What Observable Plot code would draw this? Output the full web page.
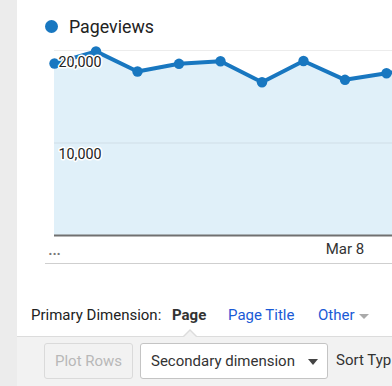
<!DOCTYPE html>
<html>
<head>
<meta charset="utf-8">
<script src="https://cdn.jsdelivr.net/npm/d3@7"></script>
<script src="https://cdn.jsdelivr.net/npm/@observablehq/plot@0.6"></script>
<style>
  html, body { margin: 0; padding: 0; width: 392px; height: 386px; overflow: hidden; background: #fff; font-family: Roboto, "Noto Sans", sans-serif; }
  #page { position: relative; width: 392px; height: 386px; overflow: hidden; }
  #strip { position: absolute; left: 0; top: 0; width: 17px; height: 386px; background: #ececec; }
  #chart { position: absolute; left: 0; top: 0; width: 440px; }
  #chart svg { max-width: none !important; width: 440px !important; height: 270px !important; display: block; }
  #legend { position: absolute; left: 45px; top: 14px; height: 24px; display: flex; align-items: center; }
  #legend .dot { width: 13px; height: 13px; border-radius: 50%; background: #1877c0; margin-right: 11px; }
  #legend span { font-size: 17.8px; color: #222; }
  #sep { position: absolute; left: 45px; top: 263px; width: 347px; height: 1px; background: #cfcfcf; }
  #dims { position: absolute; left: 31px; top: 306px; font-size: 15px; color: #222; white-space: nowrap; }
  #dims b { position: absolute; left: 141px; top: 0; color: #333; }
  #dims .lnk { position: absolute; top: 0; color: #1a5ad6; }
  #dims .tri { position: absolute; left: 328px; top: 8px; width: 0; height: 0; border-left: 5px solid transparent; border-right: 5px solid transparent; border-top: 5px solid #aaa; }
  #tools { position: absolute; left: 17px; top: 336px; width: 375px; height: 50px; background: #f2f2f2; border-top: 1px solid #dcdcdc; }
  #notch { position: absolute; left: 182px; top: 329px; width: 0; height: 0; border-left: 8px solid transparent; border-right: 8px solid transparent; border-bottom: 8px solid #dcdcdc; }
  #notch2 { position: absolute; left: 183px; top: 331px; width: 0; height: 0; border-left: 7px solid transparent; border-right: 7px solid transparent; border-bottom: 7px solid #f2f2f2; }
  .btn { position: absolute; top: 343px; height: 36px; box-sizing: border-box; border-radius: 3px; font-size: 15px; line-height: 34px; white-space: nowrap; }
  #plotrows { left: 44px; width: 89px; border: 1px solid #dadada; color: #b8b8b8; padding-left: 10px; }
  #secdim { left: 140px; width: 188px; border: 1px solid #c4c4c4; background: #fff; color: #333; padding-left: 10px; }
  #secdim .tri { position: absolute; left: 167px; top: 15px; width: 0; height: 0; border-left: 5px solid transparent; border-right: 5px solid transparent; border-top: 6px solid #444; }
  #sort { position: absolute; left: 336px; top: 343px; line-height: 35px; font-size: 15px; color: #333; white-space: nowrap; }
</style>
</head>
<body>
<div id="page">
  <div id="strip"></div>
  <div id="chart"></div>
  <div id="legend"><div class="dot"></div><span>Pageviews</span></div>
  <div id="sep"></div>
  <div id="dims">Primary Dimension:<b>Page</b><span class="lnk" style="left:197px">Page Title</span><span class="lnk" style="left:287px">Other</span><span class="tri"></span></div>
  <div id="tools"></div>
  <div id="notch"></div>
  <div id="notch2"></div>
  <div class="btn" id="plotrows">Plot Rows</div>
  <div class="btn" id="secdim">Secondary dimension<span class="tri"></span></div>
  <div id="sort">Sort Typ</div>
</div>
<script>
// Data
const days = ["2020-03-01","2020-03-02","2020-03-03","2020-03-04","2020-03-05","2020-03-06","2020-03-07","2020-03-08","2020-03-09","2020-03-10"];
const pageviews = [18600, 19900, 17730, 18560, 18840, 16570, 18860, 16830, 17545, 18270];
const yTicks = [10000, 20000];
const xTicks = ["2020-03-08"];

const data = days.map((d, i) => ({date: new Date(d + "T00:00:00Z"), value: pageviews[i]}));
const blue = "#1877c0";

const chart = Plot.plot({
  width: 440,
  height: 270,
  marginLeft: 54,
  marginRight: 12.5,
  marginTop: 50,
  marginBottom: 35,
  style: {fontFamily: "Roboto, sans-serif", fontSize: "15px", color: "#333", background: "transparent", overflow: "visible"},
  x: {type: "utc", domain: [data[0].date, data[data.length - 1].date], ticks: xTicks.map(d => new Date(d + "T00:00:00Z")), tickFormat: d3.utcFormat("%b %-d"), tickSize: 0, tickPadding: 7.5, label: null},
  y: {domain: [0, 20000], axis: null},
  marks: [
    Plot.areaY(data, {x: "date", y: "value", fill: "#e0f0f9"}),
    Plot.ruleY(yTicks, {stroke: "#000", strokeOpacity: 0.075, strokeWidth: 1}),
    Plot.ruleY([0], {stroke: "#707070", strokeWidth: 2}),
    Plot.line(data, {x: "date", y: "value", stroke: blue, strokeWidth: 4, strokeLinejoin: "round"}),
    Plot.dot(data, {x: "date", y: "value", r: 5.2, fill: blue}),
    Plot.text(["\u00b7\u00b7\u00b7"], {x: () => data[0].date, y: () => 0, dy: 19, text: d => d, fill: "#777", fontSize: 14, fontWeight: "bold", letterSpacing: "1px"}),
    Plot.text(yTicks, {y: d => d, frameAnchor: "left", textAnchor: "start", dx: 4, dy: 11.5, text: d => d3.format(",")(d), fill: "#222", fontSize: 14.3, stroke: "white", strokeWidth: 3, paintOrder: "stroke", strokeLinejoin: "round"})
  ]
});
document.getElementById("chart").appendChild(chart);
</script>
</body>
</html>
